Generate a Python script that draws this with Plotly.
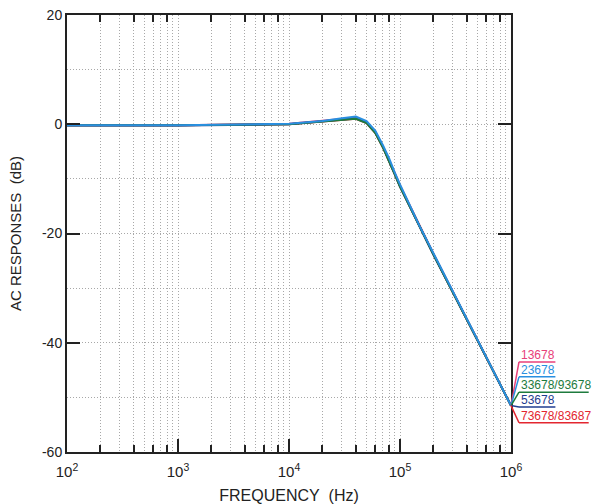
import plotly.graph_objects as go

# ---- data ----
freq = [100, 1000, 10000, 20000, 30000, 40000, 50000, 60000, 70000, 80000,
        90000, 100000, 150000, 200000, 300000, 500000, 1000000]
s13678 = [-0.2, -0.2, 0.1, 0.6, 1.0, 1.2, 0.4, -1.4, -4.0, -6.5, -9.0, -11.2, -18.7, -23.7, -30.7, -39.6, -51.5]
s23678 = [-0.2, -0.2, 0.1, 0.6, 1.1, 1.4, 0.6, -1.2, -3.8, -6.3, -8.9, -11.0, -18.6, -23.6, -30.6, -39.6, -51.5]
s33678_93678 = [-0.2, -0.2, 0.0, 0.5, 0.9, 1.0, 0.2, -1.6, -4.2, -6.7, -9.2, -11.4, -18.8, -23.8, -30.8, -39.7, -51.5]
s53678 = [-0.25, -0.25, 0.0, 0.5, 0.9, 1.1, 0.3, -1.5, -4.1, -6.7, -9.2, -11.4, -18.9, -23.9, -30.8, -39.7, -51.5]
s73678_83687 = [-0.2, -0.2, 0.0, 0.5, 0.9, 1.0, 0.2, -1.6, -4.2, -6.7, -9.2, -11.4, -18.8, -23.8, -30.8, -39.7, -51.5]

series_names = ["13678", "23678", "33678/93678", "53678", "73678/83687"]
series_values = [s13678, s23678, s33678_93678, s53678, s73678_83687]
series_colors = ["#e8407a", "#2a8fe0", "#1e7b3e", "#1f3d8f", "#e32630"]
draw_order = [0, 4, 3, 2, 1]

x_tickvals = [100, 1000, 10000, 100000, 1000000]
x_ticktext = ["10<sup>2</sup>", "10<sup>3</sup>", "10<sup>4</sup>", "10<sup>5</sup>", "10<sup>6</sup>"]
y_tickvals = [20, 0, -20, -40, -60]
y_ticktext = ["20", "0", "-20", "-40", "-60"]
y_min, y_max = -60, 20

decades = [100, 1000, 10000, 100000]
minor_grid = [d * k for d in decades for k in range(2, 10)]
minor_ticks = [d * k for d in decades for k in (2, 4, 6, 8)]

# label layout (paper coordinates)
label_y = [0.222, 0.188, 0.153, 0.119, 0.083]
under_y = [0.206, 0.172, 0.137, 0.103, 0.067]
under_end = [1.10, 1.10, 1.175, 1.10, 1.175]
label_x = 1.019
leader_x = 1.018

fig = go.Figure()
for i in draw_order:
    fig.add_trace(go.Scatter(x=freq, y=series_values[i], mode="lines",
                             name=series_names[i],
                             line=dict(color=series_colors[i], width=2),
                             showlegend=False))

grid_col = "#a8a8a8"
grid_dash = "1px,2px"
font_fam = "Liberation Sans, Arial, sans-serif"

fig.update_layout(
    width=592, height=504,
    margin=dict(l=67, r=81, t=15, b=52),
    paper_bgcolor="white", plot_bgcolor="white",
    font=dict(family=font_fam, color="#222", size=14),
    xaxis=dict(type="log", range=[2, 6], tickvals=x_tickvals, ticktext=x_ticktext,
               ticks="inside", ticklen=13, tickwidth=2, tickcolor="#222",
               showline=True, linecolor="#222", linewidth=2, mirror=True,
               showgrid=True, gridcolor=grid_col, griddash=grid_dash, gridwidth=1,
               minor=dict(tickvals=minor_grid, showgrid=True, gridcolor=grid_col,
                          griddash=grid_dash, gridwidth=1, ticks=""),
               tickfont=dict(size=15), automargin=False, ticklabelstandoff=5,
               title=dict(text="FREQUENCY&nbsp; (Hz)", font=dict(size=16), standoff=25),
               zeroline=False),
    xaxis2=dict(type="log", range=[2, 6], overlaying="x", anchor="y", side="bottom",
                tickvals=minor_ticks, showticklabels=False, ticks="inside",
                ticklen=7, tickwidth=2, tickcolor="#222", mirror="ticks",
                showgrid=False, showline=False, zeroline=False, automargin=False),
    yaxis=dict(range=[y_min, y_max], tickvals=y_tickvals, ticktext=y_ticktext,
               ticks="inside", ticklen=13, tickwidth=2, tickcolor="#222",
               showline=True, linecolor="#222", linewidth=2, mirror="ticks",
               showgrid=True, gridcolor=grid_col, griddash=grid_dash, gridwidth=1,
               minor=dict(dtick=10, showgrid=True, gridcolor=grid_col,
                          griddash=grid_dash, gridwidth=1, ticks=""),
               tickfont=dict(size=14), automargin=False, ticklabeloverflow="allow",
               title=dict(text="AC RESPONSES&nbsp; (dB)", font=dict(size=15), standoff=17),
               zeroline=False),
)

# invisible trace so the overlay tick axis renders
fig.add_trace(go.Scatter(x=freq, y=s23678, xaxis="x2", yaxis="y", mode="lines",
                         line=dict(width=0), hoverinfo="skip", showlegend=False,
                         opacity=0))

for i, name in enumerate(series_names):
    end_val = series_values[i][-1]
    y0 = (end_val - y_min) / (y_max - y_min)
    col = series_colors[i]
    fig.add_shape(type="line", xref="paper", yref="paper",
                  x0=1.0, y0=y0, x1=leader_x, y1=under_y[i],
                  line=dict(color=col, width=1.5))
    fig.add_shape(type="line", xref="paper", yref="paper",
                  x0=leader_x, y0=under_y[i], x1=under_end[i], y1=under_y[i],
                  line=dict(color=col, width=1.5))
    fig.add_annotation(text=name, xref="paper", yref="paper", x=label_x, y=label_y[i],
                       xanchor="left", yanchor="middle", showarrow=False,
                       font=dict(color=col, size=12, family=font_fam))

# remove the default page margin so the 592x504 figure fills the window exactly
fig.write_html("out.html",
               config={"displayModeBar": False},
               post_script="document.body.style.margin='0';document.body.style.overflow='hidden';")
